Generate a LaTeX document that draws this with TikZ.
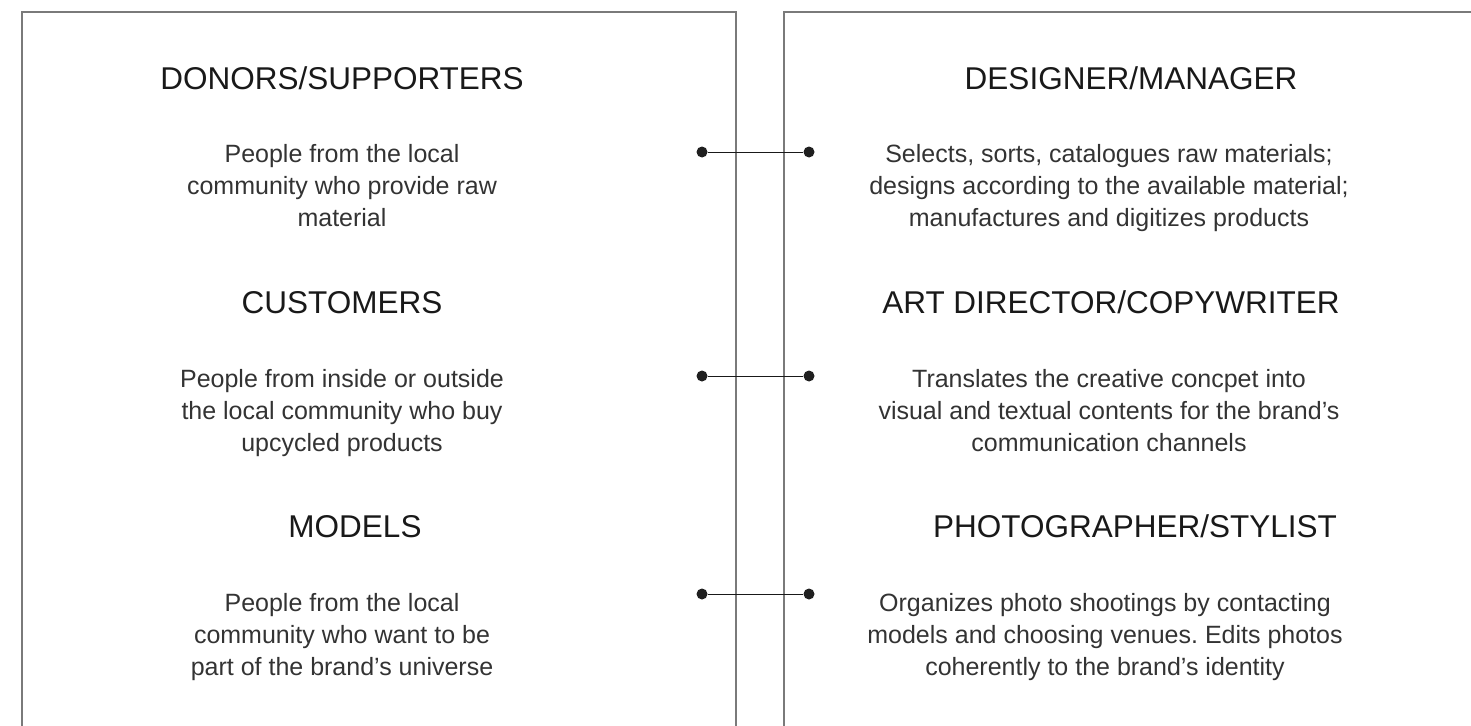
\documentclass[tikz,border=0pt]{standalone}
\usepackage{fontspec}
\setmainfont{Liberation Sans}
\frenchspacing
\begin{document}
\begin{tikzpicture}[x=1pt,y=-1pt,
  panel/.style={draw=black!52,line width=1.4pt},
  heading/.style={anchor=base,inner sep=0pt,text=black!90,font=\fontsize{31.5}{36}\selectfont},
  bodytext/.style={anchor=base,inner sep=0pt,align=center,text=black!80,font=\fontsize{25}{32}\selectfont},
  link/.style={draw=black!90,line width=1pt},
  dot/.style={circle,fill=black!88,inner sep=0pt,minimum size=11pt}]
\useasboundingbox (0,0) rectangle (1471,725);

% two open-bottomed panels
\draw[panel] (22,726) -- (22,12) -- (736,12) -- (736,726);
\draw[panel] (784,726) -- (784,12) -- (1480,12);

% left column: community roles (body nodes sit on their last baseline)
\node[heading] (donors) at (342,89) {DONORS/SUPPORTERS};
\node[bodytext] (donorsTxt) at (342,226) {People from the local\\community who provide raw\\material};
\node[heading] (customers) at (342,313) {CUSTOMERS};
\node[bodytext] (customersTxt) at (342,451) {People from inside or outside\\the local community who buy\\upcycled products};
\node[heading] (models) at (355,537) {MODELS};
\node[bodytext] (modelsTxt) at (342,675) {People from the local\\community who want to be\\part of the brand’s universe};

% right column: brand roles
\node[heading] (designer) at (1131,89) {DESIGNER/MANAGER};
\node[bodytext] (designerTxt) at (1109,226) {Selects, sorts, catalogues raw materials;\\designs according to the available material;\\manufactures and digitizes products};
\node[heading] (artdir) at (1111,313) {ART DIRECTOR/COPYWRITER};
\node[bodytext] (artdirTxt) at (1109,451) {Translates the creative concpet into\\visual and textual contents for the brand’s\\communication channels};
\node[heading] (photo) at (1135,537) {PHOTOGRAPHER/STYLIST};
\node[bodytext] (photoTxt) at (1105,675) {Organizes photo shootings by contacting\\models and choosing venues. Edits photos\\coherently to the brand’s identity};

% connectors between the columns
\node[dot] (l1) at (702,152) {};
\node[dot] (r1) at (809,152) {};
\node[dot] (l2) at (702,376) {};
\node[dot] (r2) at (809,376) {};
\node[dot] (l3) at (702,594) {};
\node[dot] (r3) at (809,594) {};
\draw[link] (l1) -- (r1);
\draw[link] (l2) -- (r2);
\draw[link] (l3) -- (r3);
\end{tikzpicture}
\end{document}
